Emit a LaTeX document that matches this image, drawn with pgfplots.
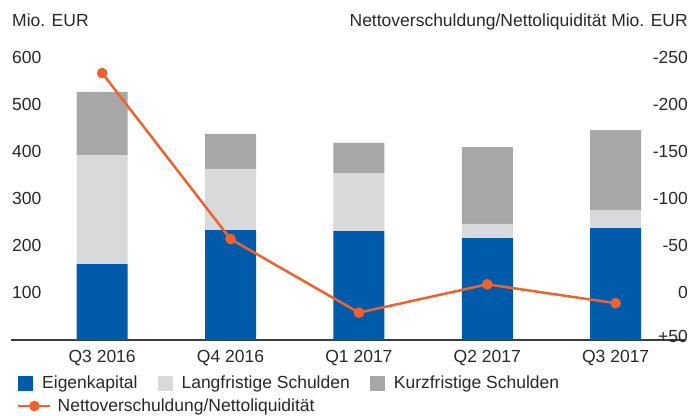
\documentclass[border=0pt]{standalone}
\usepackage{pgfplots}
\pgfplotsset{compat=1.18}
\usepackage{fontspec}
\setmainfont{Liberation Sans}
\definecolor{cBlue}{RGB}{0,91,170}
\definecolor{cLight}{RGB}{217,217,220}
\definecolor{cDark}{RGB}{167,167,168}
\definecolor{cOrange}{RGB}{240,98,45}
\definecolor{cAxis}{RGB}{60,60,60}
\definecolor{cText}{RGB}{40,40,40}
\newcommand{\ff}{\fontsize{17.5}{21}\selectfont}
\begin{document}
\ff
\begin{tikzpicture}[every node/.style={text=cText}]
\useasboundingbox (-11pt,-75pt) rectangle (682pt,340pt);
\begin{axis}[
  at={(0,0)}, anchor=south west,
  scale only axis, width=674pt, height=283pt,
  xmin=-0.71, xmax=4.54, ymin=0, ymax=600,
  ybar stacked, bar width=51pt,
  xtick={0,1,2,3,4},
  xticklabels={Q3 2016,Q4 2016,Q1 2017,Q2 2017,Q3 2017},
  ytick={100,200,300,400,500,600},
  yticklabels={100,200,300,400,500,600},
  axis x line*=bottom, axis y line*=left,
  y axis line style={draw=none},
  x axis line style={draw=cAxis, line width=1.3pt, -},
  major tick length=0pt,
  tick label style={font=\ff, text=cText},
  yticklabel style={anchor=west, inner sep=0pt, xshift=1pt},
  xticklabel style={anchor=north, inner sep=0pt, yshift=-10pt},
  legend columns=3,
  legend style={at={(axis description cs:0,0)}, anchor=west, xshift=7pt, yshift=-43pt,
    draw=none, fill=none, inner sep=0pt, font=\ff,
    nodes={inner sep=0pt, text=cText},
    /tikz/every odd column/.append style={column sep=9pt},
    /tikz/every even column/.append style={column sep=20pt}},
  legend image code/.code={\fill[#1] (0pt,-7.5pt) rectangle (15pt,7.5pt);},
]
\addplot[fill=cBlue, draw=none] coordinates {(0,161) (1,233) (2,231) (3,216) (4,237)};
\addlegendentry{Eigenkapital}
\addplot[fill=cLight, draw=none] coordinates {(0,231) (1,129) (2,123) (3,30) (4,39)};
\addlegendentry{Langfristige Schulden}
\addplot[fill=cDark, draw=none] coordinates {(0,134) (1,75) (2,64) (3,163) (4,169)};
\addlegendentry{Kurzfristige Schulden}
\end{axis}
\begin{axis}[
  at={(0,0)}, anchor=south west,
  scale only axis, width=674pt, height=283pt,
  xmin=-0.71, xmax=4.54, ymin=-250, ymax=50, y dir=reverse,
  axis x line=none, axis y line*=right,
  y axis line style={draw=none},
  major tick length=0pt,
  ytick={-250,-200,-150,-100,-50,0,50},
  yticklabels={-250,-200,-150,-100,-50,0,\raisebox{7pt}{+50}},
  tick label style={font=\ff, text=cText},
  yticklabel style={anchor=east, inner sep=0pt, xshift=3pt},
  legend style={at={(axis description cs:0,0)}, anchor=west, xshift=6pt, yshift=-66pt,
    draw=none, fill=none, inner sep=0pt, font=\ff,
    nodes={inner sep=0pt, text=cText},
    /tikz/every odd column/.append style={column sep=6pt}},
  legend image code/.code={\draw[#1, mark=none] (0pt,0pt) -- (32pt,0pt); \fill[cOrange] (16pt,0pt) circle (4pt);},
]
\addplot[cOrange, line width=2.5pt, mark=*, mark size=4pt, mark options={fill=cOrange, draw=cOrange}] coordinates {(0,-233) (1,-57) (2,21) (3,-9) (4,11)};
\addlegendentry{Nettoverschuldung/Nettoliquidität}
\end{axis}
\node[anchor=base west, inner sep=0pt] at (1pt,313pt) {Mio. EUR};
\node[anchor=base east, inner sep=0pt] at (677pt,313pt) {Nettoverschuldung/Nettoliquidität Mio. EUR};
\end{tikzpicture}
\end{document}
